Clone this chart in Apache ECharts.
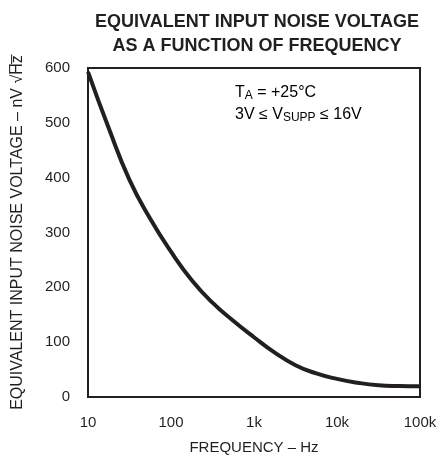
<!DOCTYPE html>
<html>
<head>
<meta charset="utf-8">
<script src="https://cdn.jsdelivr.net/npm/echarts@6/dist/echarts.min.js"></script>
<style>html,body{margin:0;padding:0;background:#fff}#c{width:441px;height:460px}</style>
</head>
<body>
<div id="c"></div>
<script>
var frequency = [10, 17.8, 31.6, 56.2, 100, 178, 316, 562, 1000, 1778, 3162, 5623, 10000, 17783, 31623, 56234, 100000];
var noise = [593, 490, 396, 325, 265, 213, 172, 139, 109, 81, 58, 43, 33, 26, 21.5, 20, 19.5];
var xTickLabels = {10: '10', 100: '100', 1000: '1k', 10000: '10k', 100000: '100k'};
var yTicks = [0, 100, 200, 300, 400, 500, 600];

var ink = '#231f20';
var font = 'Liberation Sans';
var chart = echarts.init(document.getElementById('c'), null, {renderer: 'canvas'});
chart.setOption({
  animation: false,
  title: {
    text: 'EQUIVALENT INPUT NOISE VOLTAGE\nAS A FUNCTION OF FREQUENCY',
    left: 252, top: 5, textAlign: 'center',
    textStyle: {fontFamily: font, fontWeight: 'bold', fontSize: 18, lineHeight: 24, color: ink}
  },
  grid: {left: 88, right: 21, top: 68, bottom: 62, show: true, borderColor: ink, borderWidth: 2, backgroundColor: 'transparent'},
  xAxis: {
    type: 'log', logBase: 10, min: 10, max: 100000,
    name: 'FREQUENCY – Hz', nameLocation: 'middle', nameGap: 43,
    nameTextStyle: {fontFamily: font, fontSize: 15, color: ink},
    axisLine: {show: false}, axisTick: {show: false}, splitLine: {show: false},
    axisLabel: {fontFamily: font, fontSize: 15, color: ink, margin: 18,
      formatter: function (v) { return xTickLabels[Math.round(v)] || ''; }}
  },
  yAxis: {
    type: 'value', min: yTicks[0], max: yTicks[yTicks.length - 1], interval: 100,
    name: 'EQUIVALENT INPUT NOISE VOLTAGE – nV √H\u0305z\u0305', nameLocation: 'middle', nameGap: 62,
    nameTextStyle: {fontFamily: font, fontSize: 16, color: ink},
    axisLine: {show: false}, axisTick: {show: false}, splitLine: {show: false},
    axisLabel: {fontFamily: font, fontSize: 15, color: ink, margin: 18}
  },
  graphic: [
    {type: 'text', left: 235, top: 85, style: {
      text: '{n|T}{s|A}{n| = +25°C}',
      rich: {n: {fontFamily: font, fontSize: 16, color: ink}, s: {fontFamily: font, fontSize: 12, color: ink, padding: [5, 0, 0, 0]}}
    }},
    {type: 'text', left: 235, top: 107, style: {
      text: '{n|3V ≤ V}{s|SUPP}{n| ≤ 16V}',
      rich: {n: {fontFamily: font, fontSize: 16, color: ink}, s: {fontFamily: font, fontSize: 12, color: ink, padding: [5, 0, 0, 0]}}
    }}
  ],
  series: [{
    type: 'line', smooth: 0.5, showSymbol: false,
    lineStyle: {color: ink, width: 4},
    data: frequency.map(function (f, i) { return [f, noise[i]]; })
  }]
});
</script>
</body>
</html>
